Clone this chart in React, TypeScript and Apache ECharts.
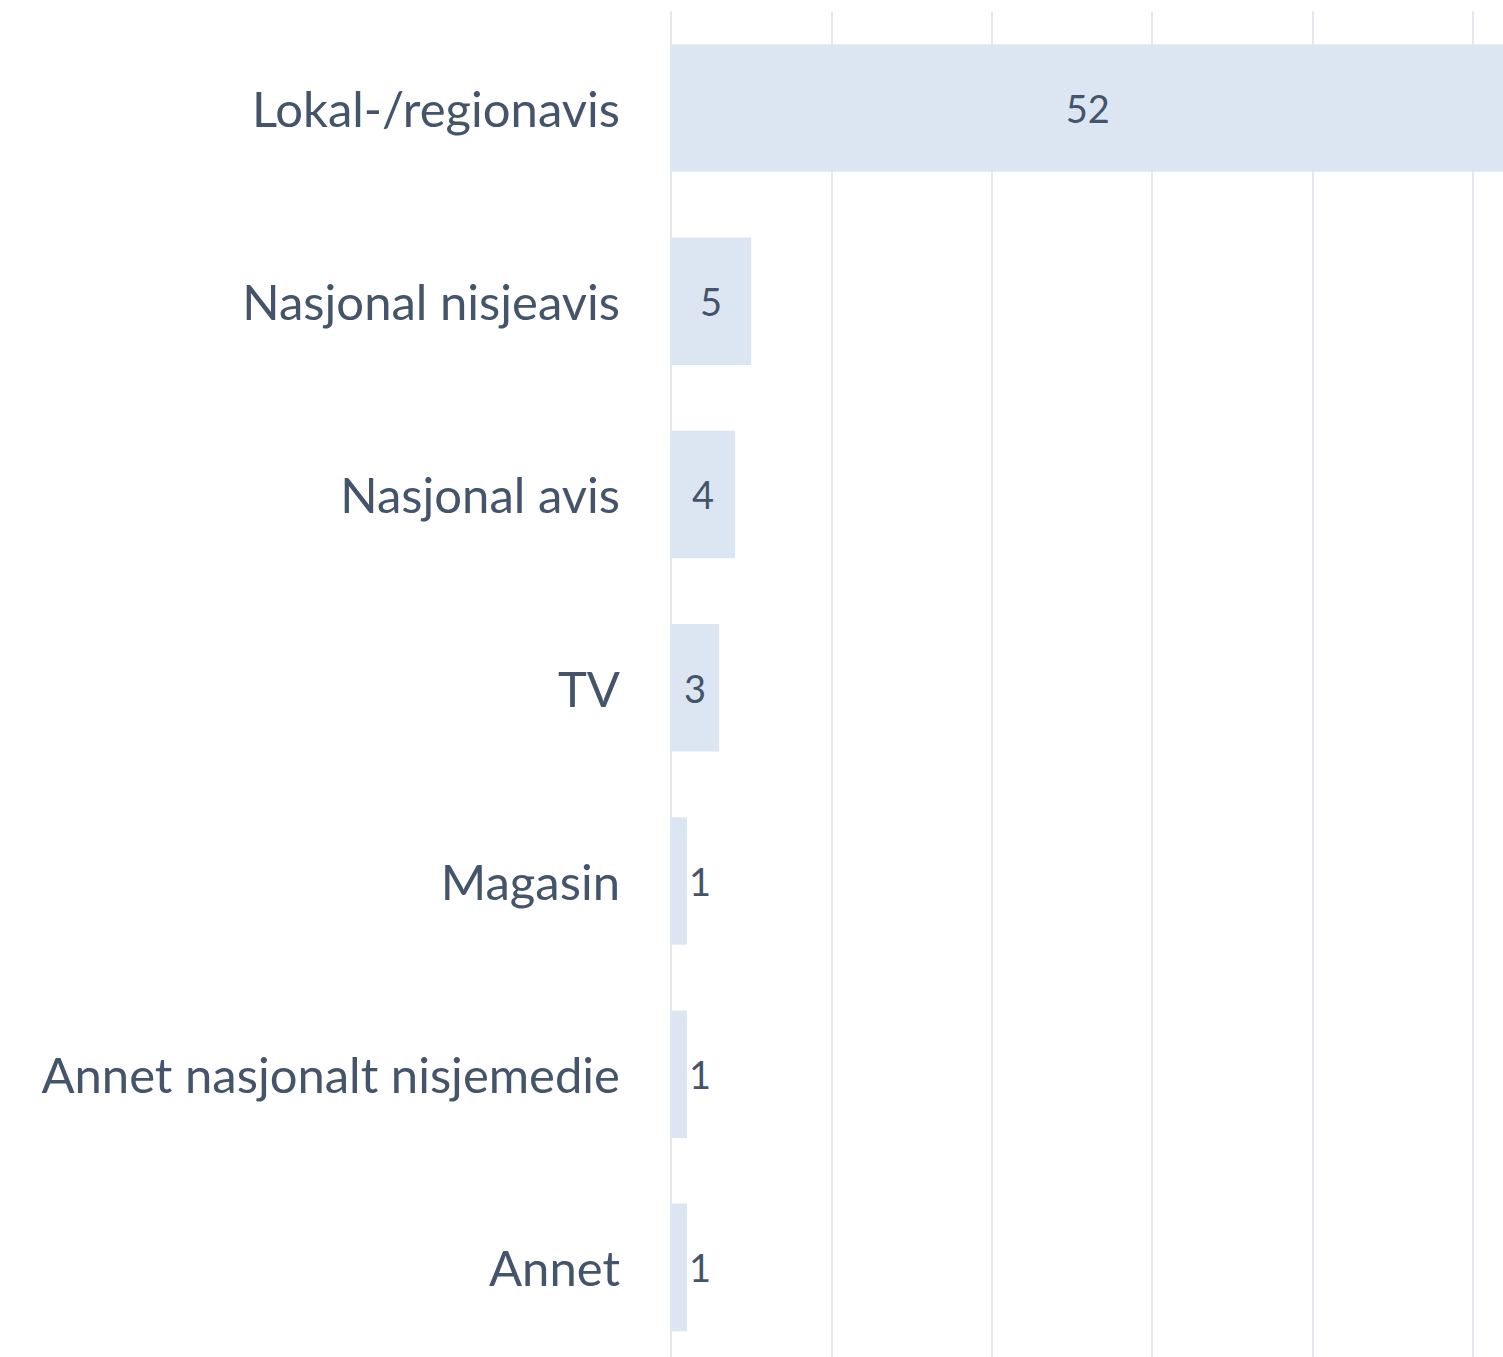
import React, { useEffect, useRef } from "react";
import * as echarts from "echarts";

const categories = [
  "Lokal-/regionavis",
  "Nasjonal nisjeavis",
  "Nasjonal avis",
  "TV",
  "Magasin",
  "Annet nasjonalt nisjemedie",
  "Annet",
];
const values = [52, 5, 4, 3, 1, 1, 1];

const TEXT = "#44546A";
const BAR = "#DCE6F2";
const GRID = "#E4E7EC";

export default function App() {
  const ref = useRef<HTMLDivElement>(null);
  useEffect(() => {
    if (!ref.current) return;
    const chart = echarts.init(ref.current, undefined, { renderer: "svg" });
    chart.setOption({
      animation: false,
      grid: { left: 671, right: 7, top: 11.4, bottom: 6, containLabel: false },
      xAxis: {
        type: "value",
        min: 0,
        max: 60,
        interval: 10,
        axisLabel: { show: false },
        axisLine: { show: false },
        axisTick: { show: false },
        splitLine: { show: true, lineStyle: { color: GRID, width: 2 } },
      },
      yAxis: {
        type: "category",
        inverse: true,
        data: categories,
        axisLine: { show: false },
        axisTick: { show: false },
        axisLabel: {
          color: TEXT,
          fontFamily: "Lato",
          fontSize: 49,
          margin: 51,
        },
      },
      series: [
        {
          type: "bar",
          barWidth: "66%",
          itemStyle: { color: BAR },
          label: {
            show: true,
            position: "inside",
            color: TEXT,
            fontFamily: "Lato",
            fontSize: 38,
          },
          data: values.map((v) =>
            v < 2
              ? { value: v, label: { position: "right", distance: 2 } }
              : { value: v }
          ),
        },
      ],
    });
    return () => chart.dispose();
  }, []);
  return (
    <div
      style={{
        position: "absolute",
        left: 0,
        top: 0,
        width: 1503,
        height: 1357,
        overflow: "hidden",
        background: "#fff",
      }}
    >
      <div ref={ref} style={{ width: 1640, height: 1370 }} />
    </div>
  );
}
